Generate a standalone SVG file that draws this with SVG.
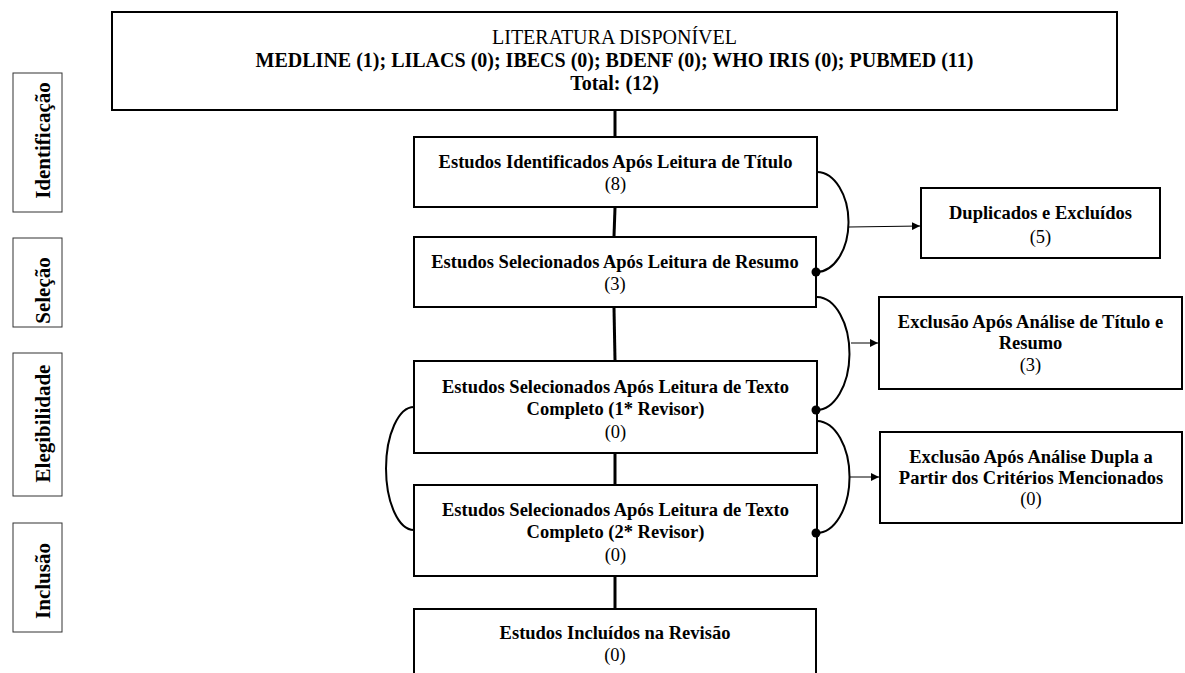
<svg xmlns="http://www.w3.org/2000/svg" width="1185" height="673" viewBox="0 0 1185 673">
<defs>
<style>
text{font-family:"Liberation Serif","Times New Roman",serif;fill:#000;text-anchor:middle}
.b{font-weight:bold;font-size:18.5px}
.r{font-size:18.5px}
.l{font-weight:bold;font-size:21px}
.t{font-size:20px}
.box{fill:#fff;stroke:#000;stroke-width:2}
.lab{fill:#fff;stroke:#333;stroke-width:1}
.v{stroke:#000;stroke-width:3;fill:none}
.c{stroke:#000;stroke-width:2;fill:none}
.a{stroke:#000;stroke-width:1;fill:none}
</style>
<marker id="arr" viewBox="0 0 10 10" refX="10" refY="5" markerWidth="8" markerHeight="8" markerUnits="userSpaceOnUse" orient="auto"><path d="M0,0L10,5L0,10z" fill="#000"/></marker>
</defs>
<g id="lab-identificacao"><rect class="lab" x="13" y="73" width="49" height="139"/><text class="l" transform="translate(50,140.5) rotate(-90)">Identificação</text></g>
<g id="lab-selecao"><rect class="lab" x="13" y="238" width="49" height="89"/><text class="l" transform="translate(50,290.5) rotate(-90)">Seleção</text></g>
<g id="lab-elegibilidade"><rect class="lab" x="13" y="353" width="49" height="143"/><text class="l" transform="translate(50,423.5) rotate(-90)">Elegibilidade</text></g>
<g id="lab-inclusao"><rect class="lab" x="13" y="523" width="49" height="109"/><text class="l" transform="translate(50,581) rotate(-90)">Inclusão</text></g>
<g id="literatura">
<rect class="box" x="112" y="12" width="1005" height="98" stroke-width="2.5"/>
<text class="t" x="614.5" y="44">LITERATURA DISPONÍVEL</text>
<text class="t" x="614.5" y="67" font-weight="bold">MEDLINE (1); LILACS (0); IBECS (0); BDENF (0); WHO IRIS (0); PUBMED (11)</text>
<text class="t" x="614.5" y="90" font-weight="bold">Total: (12)</text>
</g>
<g id="identificados">
<rect class="box" x="414" y="137" width="403" height="70"/>
<text class="b" x="615.5" y="168">Estudos Identificados Após Leitura de Título</text>
<text class="r" x="615.5" y="190">(8)</text>
</g>
<g id="resumo">
<rect class="box" x="414" y="237" width="402" height="70"/>
<text class="b" x="615" y="268">Estudos Selecionados Após Leitura de Resumo</text>
<text class="r" x="615" y="290">(3)</text>
</g>
<g id="revisor1">
<rect class="box" x="414" y="361" width="403" height="92"/>
<text class="b" x="615.5" y="393">Estudos Selecionados Após Leitura de Texto</text>
<text class="b" x="615.5" y="415">Completo (1* Revisor)</text>
<text class="r" x="615.5" y="438">(0)</text>
</g>
<g id="revisor2">
<rect class="box" x="414" y="485" width="403" height="91"/>
<text class="b" x="615.5" y="516">Estudos Selecionados Após Leitura de Texto</text>
<text class="b" x="615.5" y="538">Completo (2* Revisor)</text>
<text class="r" x="615.5" y="561">(0)</text>
</g>
<g id="incluidos">
<rect class="box" x="414" y="609" width="402" height="80"/>
<text class="b" x="615" y="639">Estudos Incluídos na Revisão</text>
<text class="r" x="615" y="661">(0)</text>
</g>
<g id="duplicados">
<rect class="box" x="921" y="188" width="239" height="70"/>
<text class="b" x="1040.5" y="219">Duplicados e Excluídos</text>
<text class="r" x="1040.5" y="243">(5)</text>
</g>
<g id="exclusao1">
<rect class="box" x="879" y="297" width="303" height="92"/>
<text class="b" x="1030.5" y="328">Exclusão Após Análise de Título e</text>
<text class="b" x="1030.5" y="349">Resumo</text>
<text class="r" x="1030.5" y="371">(3)</text>
</g>
<g id="exclusao2">
<rect class="box" x="880" y="432" width="302" height="91"/>
<text class="b" x="1031" y="463">Exclusão Após Análise Dupla a</text>
<text class="b" x="1031" y="484">Partir dos Critérios Mencionados</text>
<text class="r" x="1031" y="505">(0)</text>
</g>
<g id="connectors">
<line class="v" x1="615" y1="111" x2="615" y2="136"/>
<line class="v" x1="615" y1="208" x2="614" y2="236"/>
<line class="v" x1="614" y1="308" x2="615" y2="360"/>
<line class="v" x1="615" y1="454" x2="615" y2="484"/>
<line class="v" x1="615" y1="577" x2="615" y2="608"/>
<path class="c" d="M817 172 A32 50 0 0 1 816 272"/>
<circle cx="816" cy="272" r="4.5"/>
<path class="c" d="M817 297 A33 56.5 0 0 1 816 410"/>
<circle cx="816" cy="410" r="4.5"/>
<path class="c" d="M817 421 A33 56 0 0 1 816 533"/>
<circle cx="816" cy="533" r="4.5"/>
<path class="c" d="M414 407 A28 61.5 0 0 0 414 530"/>
<line class="a" x1="849" y1="227" x2="920" y2="226" marker-end="url(#arr)"/>
<line class="a" x1="851" y1="343" x2="878" y2="343" marker-end="url(#arr)"/>
<line class="a" x1="850" y1="477" x2="879" y2="477" marker-end="url(#arr)"/>
</g>
</svg>
